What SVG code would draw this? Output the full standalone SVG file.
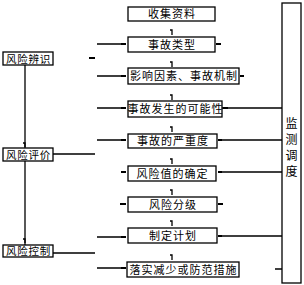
<svg xmlns="http://www.w3.org/2000/svg" width="304" height="285" viewBox="0 0 304 285">
<style>
.box{fill:#fff;stroke:#000;stroke-width:1.3}
.t{font-family:"Noto Sans CJK SC","Noto Sans",sans-serif;font-size:11px;fill:#000;text-anchor:middle;letter-spacing:1px}
.s{font-size:10.5px;letter-spacing:0.8px}
.v{font-family:"Noto Sans CJK SC","Noto Sans",sans-serif;font-size:12px;fill:#000;text-anchor:middle}
.ln{stroke:#000;stroke-width:1.3;fill:none}
.mk{fill:#000}
</style>
<rect width="304" height="285" fill="#fff"/>
<g id="connectors">
<path class="ln" d="M25,65V149M25,161V246"/>
<path class="ln" d="M23,143h2v4M23,239h2v4"/>
<path class="ln" d="M53,154H95M53,253H95"/>
<path class="ln" d="M97,44H122M97,76H122M97,108H122M97,140H122M97,237H122M97,268H122"/>
<path class="ln" d="M222,108H282M220,140H282M220,172H282M219,236H282M275,269H282"/>
<g class="mk">
<rect x="89" y="57" width="6" height="2"/>
<rect x="121" y="43" width="5" height="2"/>
<rect x="121" y="75" width="5" height="2"/>
<rect x="121" y="107" width="5" height="2"/>
<rect x="121" y="139" width="5" height="2"/>
<rect x="121" y="171" width="5" height="2"/>
<rect x="120" y="203" width="6" height="2"/>
<rect x="121" y="236" width="5" height="2"/>
<rect x="121" y="267" width="5" height="2"/>
<rect x="216" y="43" width="5" height="2"/>
<rect x="240" y="75" width="4" height="2"/>
<rect x="223" y="107" width="5" height="2"/>
<rect x="218" y="139" width="4" height="2"/>
<rect x="218" y="171" width="4" height="2"/>
<rect x="218" y="203" width="5" height="2"/>
<rect x="218" y="235" width="4" height="2"/>
</g>
<path class="ln" d="M170,30h2v5M170,62h2v5M170,95h2v5M170,127h2v5M170,159h2v5M170,190h2v5M170,221h2v5M170,255h2v5"/>
</g>
<g id="n1"><rect class="box" x="128" y="7" width="87" height="14"/><text class="t" x="172" y="18">收集资料</text></g>
<g id="n2"><rect class="box" x="128" y="37" width="87" height="15"/><text class="t" x="172" y="48.5">事故类型</text></g>
<g id="n3"><rect class="box" x="128" y="68" width="111" height="16"/><text class="t" x="184" y="80">影响因素、事故机制</text></g>
<g id="n4"><rect class="box" x="128" y="101" width="94" height="16"/><text class="t" x="175.5" y="113">事故发生的可能性</text></g>
<g id="n5"><rect class="box" x="128" y="134" width="89" height="14"/><text class="t" x="173" y="145">事故的严重度</text></g>
<g id="n6"><rect class="box" x="128" y="166" width="88" height="15"/><text class="t" x="172.5" y="177.5">风险值的确定</text></g>
<g id="n7"><rect class="box" x="128" y="197" width="89" height="15"/><text class="t" x="173" y="208.5">风险分级</text></g>
<g id="n8"><rect class="box" x="128" y="228" width="89" height="15"/><text class="t" x="173" y="239.5">制定计划</text></g>
<g id="n9"><rect class="box" x="127" y="262" width="112" height="15"/><text class="t" x="183.5" y="273.5">落实减少或防范措施</text></g>
<g id="l1"><rect class="box" x="3" y="52" width="50" height="13"/><text class="t s" x="28.5" y="62.5">风险辨识</text></g>
<g id="l2"><rect class="box" x="3" y="148" width="50" height="13"/><text class="t s" x="28.5" y="158.5">风险评价</text></g>
<g id="l3"><rect class="box" x="3" y="245" width="50" height="12"/><text class="t s" x="28.5" y="255">风险控制</text></g>
<g id="monitor"><rect class="box" x="282" y="3" width="19" height="280"/>
<text class="v" x="291.5" y="128">监</text><text class="v" x="291.5" y="144">测</text><text class="v" x="291.5" y="160">调</text><text class="v" x="291.5" y="176">度</text></g>
</svg>
